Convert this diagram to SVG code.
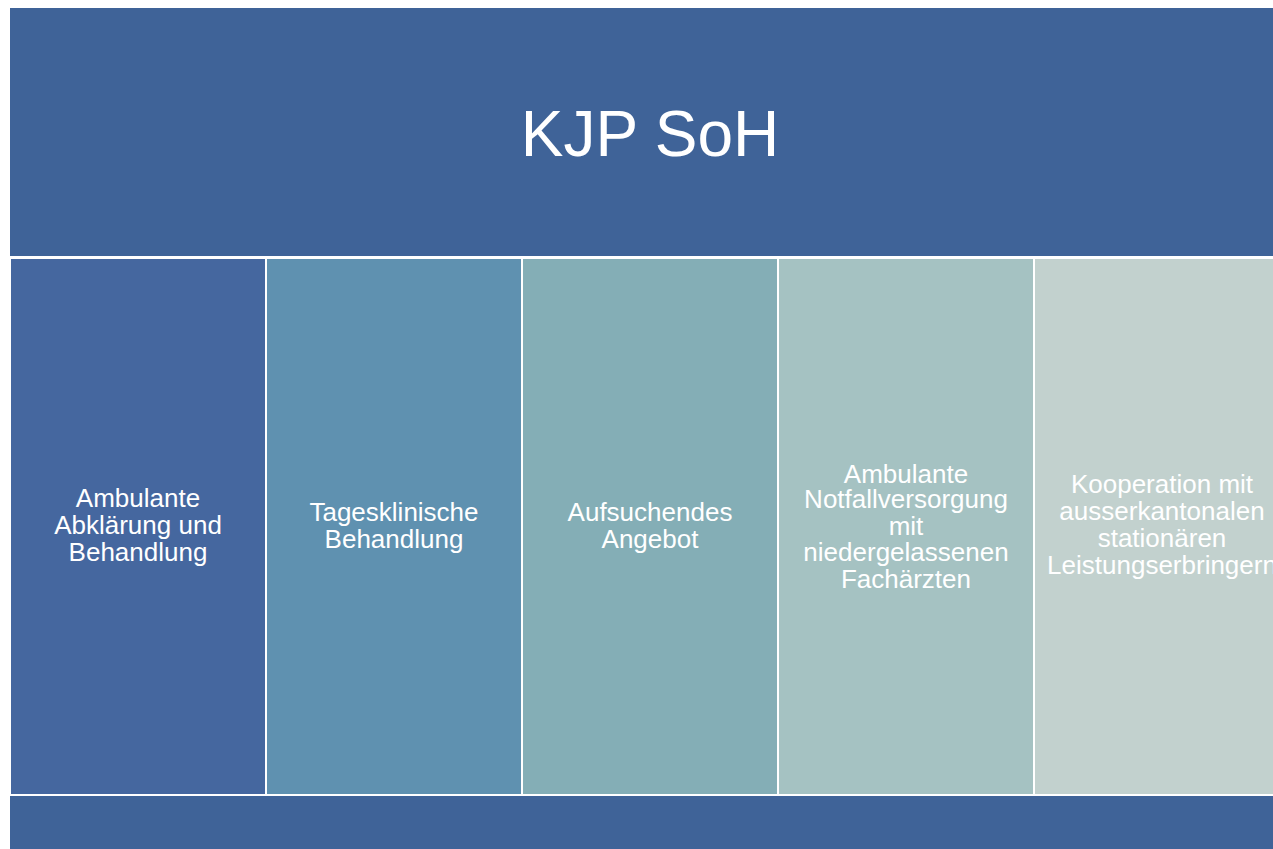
<svg xmlns="http://www.w3.org/2000/svg" width="1273" height="849" viewBox="0 0 1273 849">
  <style>
    .band { fill: #3f6398; }
    .col { stroke: #ffffff; stroke-width: 2; }
    .lbl { font-family: "Liberation Sans", Arial, sans-serif; font-size: 26px; fill: #ffffff; text-anchor: middle; }
    .title { font-family: "Liberation Sans", Arial, sans-serif; font-size: 64px; fill: #ffffff; text-anchor: middle; }
  </style>
  <rect x="0" y="0" width="1273" height="849" fill="#ffffff"/>

  <!-- header band -->
  <g id="header">
    <rect class="band" x="10" y="8" width="1280" height="248"/>
    <text class="title" x="650" y="156">KJP SoH</text>
  </g>

  <!-- footer band -->
  <g id="footer">
    <rect class="band" x="10" y="795" width="1280" height="60"/>
  </g>

  <!-- service columns -->
  <g id="col1">
    <rect class="col" x="10" y="258" width="256" height="537" fill="#45679f"/>
    <text class="lbl" x="138"><tspan x="138" y="507">Ambulante</tspan><tspan x="138" y="534">Abklärung und</tspan><tspan x="138" y="561">Behandlung</tspan></text>
  </g>
  <g id="col2">
    <rect class="col" x="266" y="258" width="256" height="537" fill="#5f91b0"/>
    <text class="lbl" x="394"><tspan x="394" y="521">Tagesklinische</tspan><tspan x="394" y="547.5">Behandlung</tspan></text>
  </g>
  <g id="col3">
    <rect class="col" x="522" y="258" width="256" height="537" fill="#84aeb6"/>
    <text class="lbl" x="650"><tspan x="650" y="521">Aufsuchendes</tspan><tspan x="650" y="547.5">Angebot</tspan></text>
  </g>
  <g id="col4">
    <rect class="col" x="778" y="258" width="256" height="537" fill="#a5c2c2"/>
    <text class="lbl" x="906"><tspan x="906" y="482.5">Ambulante</tspan><tspan x="906" y="508">Notfallversorgung</tspan><tspan x="906" y="534.5">mit</tspan><tspan x="906" y="561">niedergelassenen</tspan><tspan x="906" y="588">Fachärzten</tspan></text>
  </g>
  <g id="col5">
    <rect class="col" x="1034" y="258" width="256" height="537" fill="#c2d1ce"/>
    <text class="lbl" x="1162"><tspan x="1162" y="493">Kooperation mit</tspan><tspan x="1162" y="519.5">ausserkantonalen</tspan><tspan x="1162" y="546.5">stationären</tspan><tspan x="1162" y="573.5">Leistungserbringern</tspan></text>
  </g>

  <g id="connectors"/>
</svg>
